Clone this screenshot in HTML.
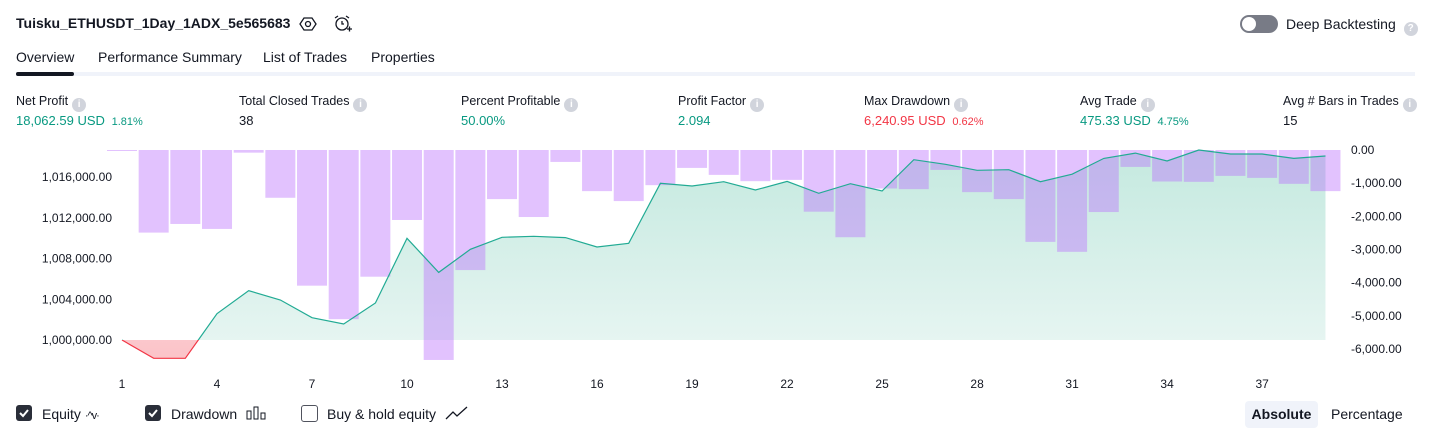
<!DOCTYPE html>
<html><head><meta charset="utf-8">
<style>
body{margin:0;width:1431px;height:438px;background:#fff;font-family:"Liberation Sans",sans-serif;color:#131722;position:relative;overflow:hidden}
.a{position:absolute;white-space:nowrap}
.lbl{font-size:12.5px;color:#131722}
.val{font-size:13px}
.g{color:#089981}.r{color:#f23645}
.small{font-size:11px}
.info{display:inline-block;width:14px;height:14px;border-radius:50%;background:#d1d4dc;color:#fff;font-size:10px;text-align:center;line-height:14px;vertical-align:-2px;margin-left:4px;font-weight:bold}
.tab{font-size:14px;top:49px}
.cb{width:16px;height:16px;border-radius:3px;top:405px}
</style></head><body>
<div class="a" style="left:16px;top:15px;font-size:14px;font-weight:bold">Tuisku_ETHUSDT_1Day_1ADX_5e565683</div>
<svg class="a" style="left:299px;top:15px" width="18" height="18" viewBox="0 0 18 18"><path d="M5 3h8l4 6-4 6H5L1 9z" fill="none" stroke="#131722" stroke-width="1.3"/><circle cx="9" cy="9" r="2.5" fill="none" stroke="#131722" stroke-width="1.3"/></svg>
<svg class="a" style="left:333px;top:14px" width="20" height="20" viewBox="0 0 20 20"><circle cx="9" cy="10" r="6" fill="none" stroke="#131722" stroke-width="1.3"/><path d="M9 7v3h2M2 4l3-2M16 4l-3-2M14 15h5M16.5 12.5v5" fill="none" stroke="#131722" stroke-width="1.3"/></svg>
<div class="a" style="left:1240px;top:15px;width:38px;height:18px;border-radius:9px;background:#787b86"><div style="position:absolute;left:2px;top:2px;width:14px;height:14px;border-radius:50%;background:#fff"></div></div>
<div class="a" style="left:1286px;top:16px;font-size:14px">Deep Backtesting <span class="info" style="background:#d1d4dc">?</span></div>

<div class="a tab" style="left:16px">Overview</div>
<div class="a tab" style="left:98px">Performance Summary</div>
<div class="a tab" style="left:263px">List of Trades</div>
<div class="a tab" style="left:371px">Properties</div>
<div class="a" style="left:16px;top:72px;width:1399px;height:4px;background:#f0f3fa"></div>
<div class="a" style="left:16px;top:72px;width:58px;height:4px;border-radius:2px;background:#131722"></div>

<div class="a lbl" style="left:16px;top:94px">Net Profit<span class="info">i</span></div>
<div class="a val g" style="left:16px;top:113px">18,062.59 USD <span class="small">&nbsp;1.81%</span></div>
<div class="a lbl" style="left:239px;top:94px">Total Closed Trades<span class="info">i</span></div>
<div class="a val" style="left:239px;top:113px">38</div>
<div class="a lbl" style="left:461px;top:94px">Percent Profitable<span class="info">i</span></div>
<div class="a val g" style="left:461px;top:113px">50.00%</div>
<div class="a lbl" style="left:678px;top:94px">Profit Factor<span class="info">i</span></div>
<div class="a val g" style="left:678px;top:113px">2.094</div>
<div class="a lbl" style="left:864px;top:94px">Max Drawdown<span class="info">i</span></div>
<div class="a val r" style="left:864px;top:113px">6,240.95 USD <span class="small">&nbsp;0.62%</span></div>
<div class="a lbl" style="left:1080px;top:94px">Avg Trade<span class="info">i</span></div>
<div class="a val g" style="left:1080px;top:113px">475.33 USD <span class="small">&nbsp;4.75%</span></div>
<div class="a lbl" style="left:1283px;top:94px">Avg # Bars in Trades<span class="info">i</span></div>
<div class="a val" style="left:1283px;top:113px">15</div>

<svg id="chart" class="a" style="left:0;top:0" width="1431" height="395"></svg>

<div class="a cb" style="left:16px;background:#2a2e39"><svg width="16" height="16"><path d="M4 8l3 3 5-6" stroke="#fff" stroke-width="2" fill="none"/></svg></div>
<div class="a" style="left:42px;top:406px;font-size:14px">Equity <span style="font-size:11px;letter-spacing:-1px">·^v·</span></div>
<div class="a cb" style="left:145px;background:#2a2e39"><svg width="16" height="16"><path d="M4 8l3 3 5-6" stroke="#fff" stroke-width="2" fill="none"/></svg></div>
<div class="a" style="left:171px;top:406px;font-size:14px">Drawdown</div>
<svg class="a" style="left:246px;top:405px" width="22" height="16"><rect x="1" y="6" width="4" height="8" fill="none" stroke="#131722"/><rect x="8" y="2" width="4" height="12" fill="none" stroke="#131722"/><rect x="15" y="8" width="4" height="6" fill="none" stroke="#131722"/></svg>
<div class="a cb" style="left:301px;border:1px solid #50535e;width:15px;height:15px"></div>
<div class="a" style="left:327px;top:406px;font-size:14px">Buy &amp; hold equity</div>
<svg class="a" style="left:445px;top:405px" width="24" height="16"><path d="M1 14l7-7 4 4 10-9" fill="none" stroke="#131722" stroke-width="1.3"/></svg>
<div class="a" style="left:1245px;top:401px;width:73px;height:27px;background:#f0f3fa;border-radius:4px;font-size:14px;font-weight:bold;text-align:center;line-height:27px">Absolute</div>
<div class="a" style="left:1331px;top:406px;font-size:14px">Percentage</div>

<script>
const equity=[1000000,998200,998200,1002580,1004840,1003930,1002190,1001570,1003630,1009980,1006640,1008900,1010080,1010180,1010050,1009130,1009490,1015380,1015120,1015540,1014720,1015570,1014400,1015340,1014630,1017700,1017250,1016660,1016720,1015540,1016270,1017830,1018350,1017570,1018650,1018260,1018260,1017830,1018062];
const drawdown=[-20,-2490,-2230,-2380,-80,-1440,-4090,-5100,-3820,-2110,-6330,-3620,-1480,-2020,-360,-1240,-1540,-1060,-540,-750,-940,-900,-1860,-2630,-1160,-1180,-600,-1270,-1480,-2770,-3070,-1870,-510,-950,-960,-780,-840,-1020,-1240];
const leftTicks=[1000000,1004000,1008000,1012000,1016000];
const rightTicks=[0,-1000,-2000,-3000,-4000,-5000,-6000];
const xTicks=[1,4,7,10,13,16,19,22,25,28,31,34,37];
const base=1000000;
const NS='http://www.w3.org/2000/svg';
const svg=document.getElementById('chart');
const X=i=>122+31.67*i;
const YL=v=>340-(v-base)/4000*40.75;
const YR=v=>150-v/1000*33.17;
function mk(t,a){const e=document.createElementNS(NS,t);for(const k in a)e.setAttribute(k,a[k]);svg.appendChild(e);return e;}
const defs=mk('defs',{});
defs.innerHTML='<linearGradient id="gg" x1="0" y1="0" x2="0" y2="1"><stop offset="0" stop-color="#c4e9df"/><stop offset="1" stop-color="#e9f6f3"/></linearGradient><linearGradient id="rg" x1="0" y1="0" x2="0" y2="1"><stop offset="0" stop-color="#fff3f4"/><stop offset="1" stop-color="#fbc3c8"/></linearGradient><clipPath id="ab"><rect x="0" y="0" width="1431" height="'+YL(base)+'"/></clipPath><clipPath id="be"><rect x="0" y="'+YL(base)+'" width="1431" height="100"/></clipPath>';
const pts=equity.map((v,i)=>X(i).toFixed(1)+','+YL(v).toFixed(1)).join(' ');
const poly=X(0)+','+YL(base)+' '+pts+' '+X(equity.length-1)+','+YL(base);
let e=mk('polygon',{points:poly,fill:'url(#gg)','clip-path':'url(#ab)'});

e=mk('polygon',{points:poly,fill:'url(#rg)','clip-path':'url(#be)'});

drawdown.forEach((v,i)=>{
  const b=mk('rect',{x:X(i)-15,y:YR(0),width:30,height:Math.max(1,YR(v)-YR(0)),fill:'rgba(186,110,252,0.42)'});
  
  
});
e=mk('polyline',{points:pts,fill:'none',stroke:'#22ab94','stroke-width':1.2,'clip-path':'url(#ab)'});

e=mk('polyline',{points:pts,fill:'none',stroke:'#f23645','stroke-width':1.2,'clip-path':'url(#be)'});

const fmt=v=>v.toLocaleString('en-US',{minimumFractionDigits:2,maximumFractionDigits:2});
leftTicks.forEach(v=>{const t=mk('text',{x:112,y:YL(v)+4,'text-anchor':'end','font-size':12,fill:'#131722','font-family':'Liberation Sans, sans-serif'});t.textContent=fmt(v);
});
rightTicks.forEach(v=>{const t=mk('text',{x:1351,y:YR(v)+4,'font-size':12,fill:'#131722','font-family':'Liberation Sans, sans-serif'});t.textContent=fmt(v);
});
xTicks.forEach(v=>{const t=mk('text',{x:X(v-1),y:388,'text-anchor':'middle','font-size':12,fill:'#131722','font-family':'Liberation Sans, sans-serif'});t.textContent=v;
});
</script>
</body></html>
